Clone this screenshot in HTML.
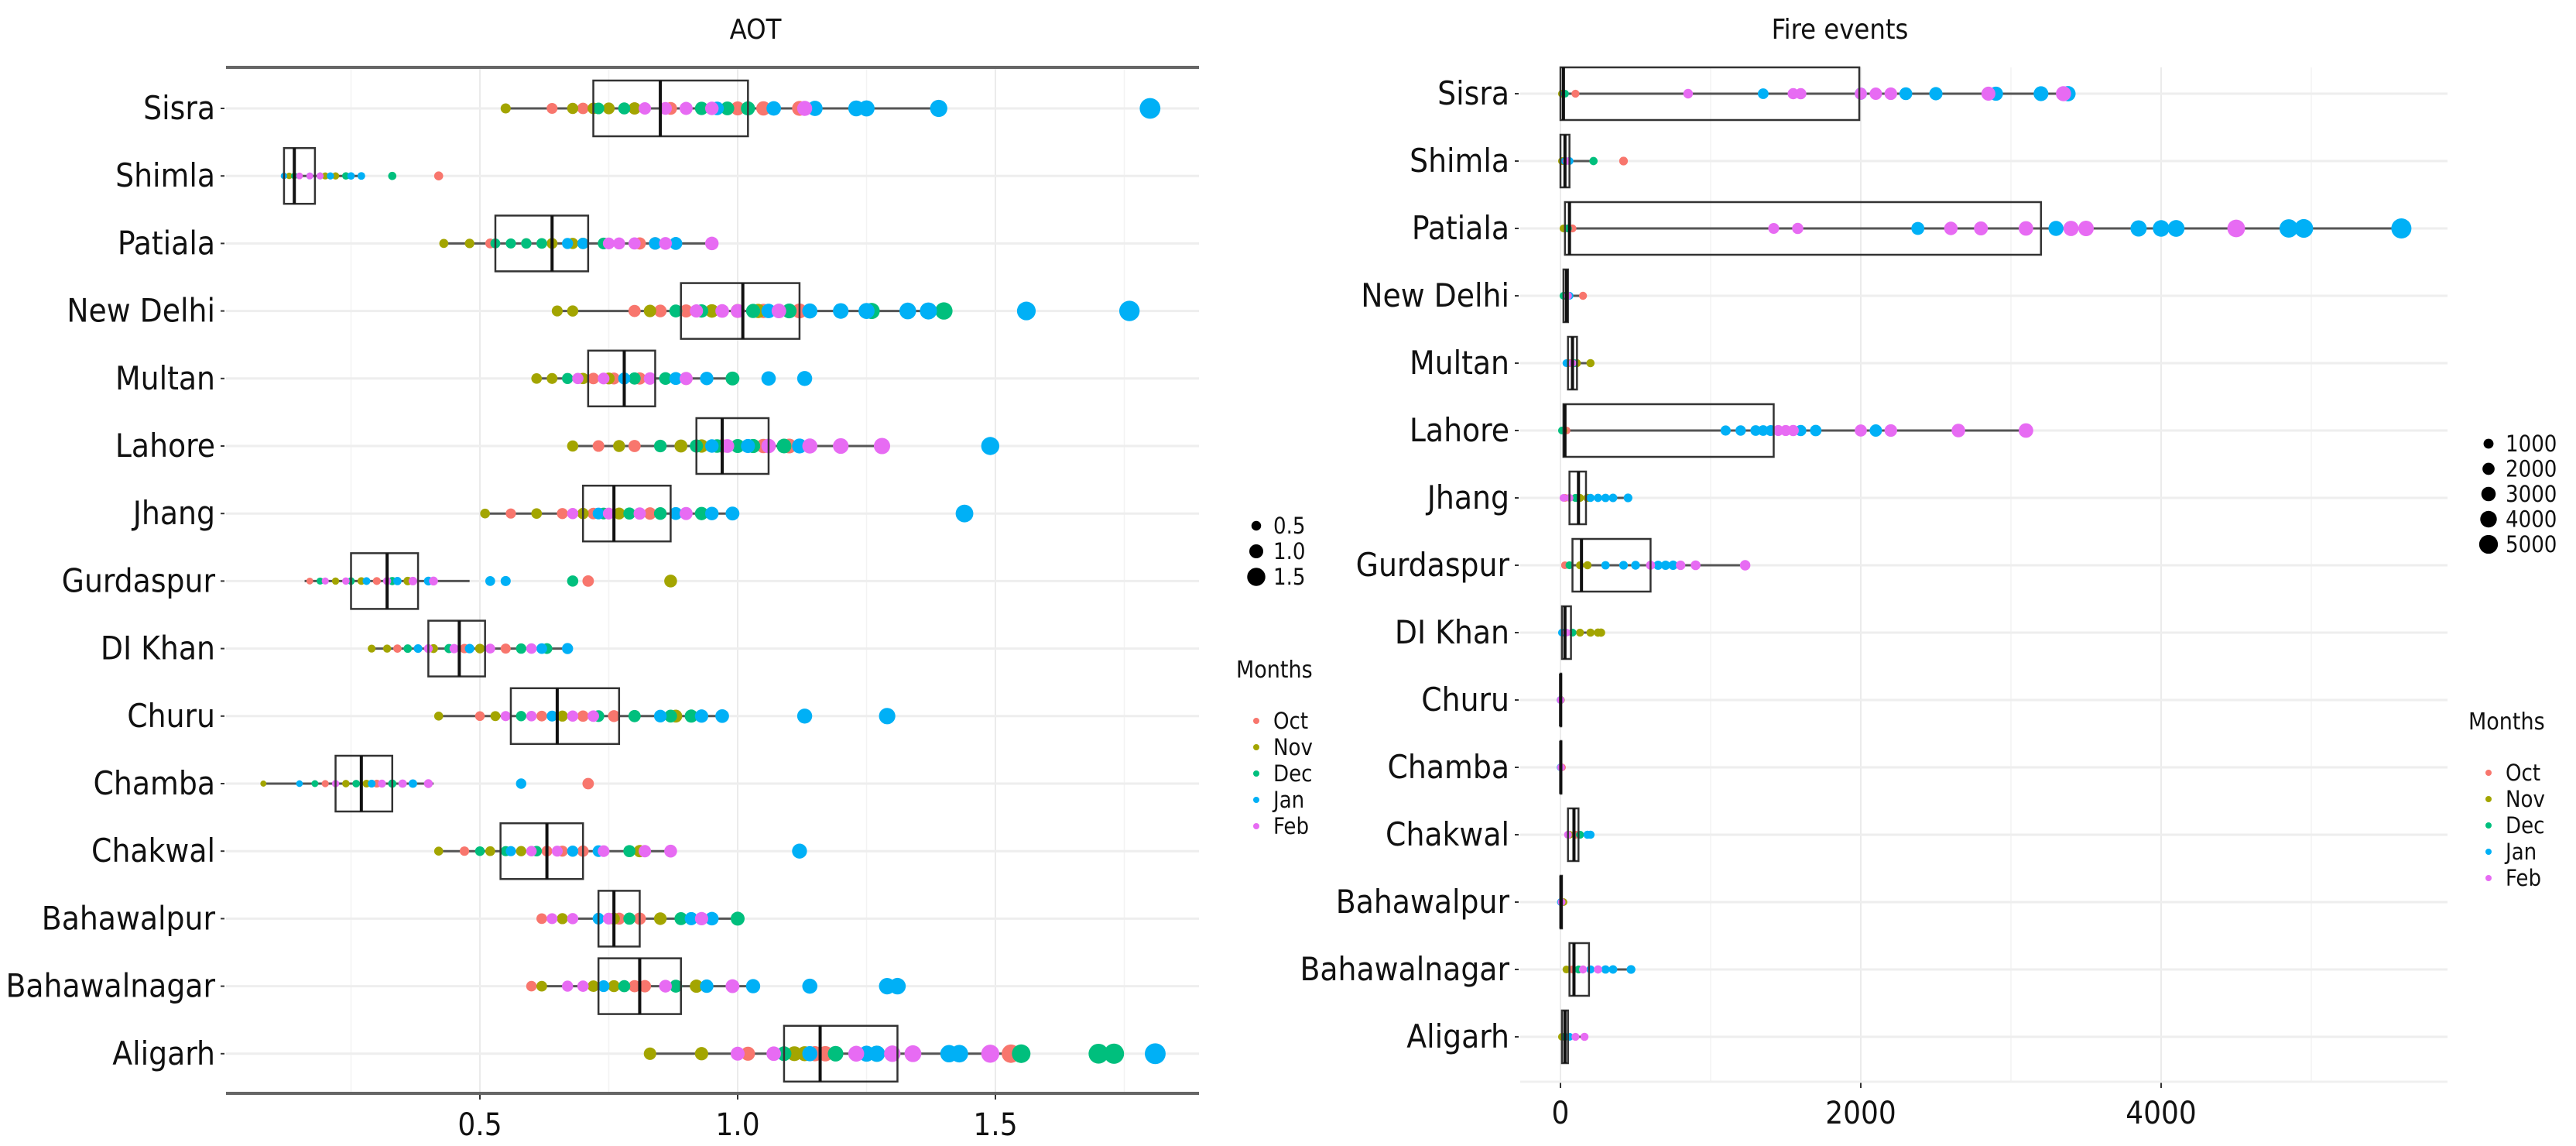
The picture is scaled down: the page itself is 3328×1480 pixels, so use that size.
<!DOCTYPE html>
<html><head><meta charset="utf-8">
<style>
html,body{margin:0;padding:0;background:#fff;}
svg{display:block;font-family:"DejaVu Sans Condensed","Liberation Sans",sans-serif;}
</style></head>
<body>
<svg id="chart" width="3328" height="1480" viewBox="0 0 3328 1480" xmlns="http://www.w3.org/2000/svg"></svg>
<script>
const cities = ["Sisra","Shimla","Patiala","New Delhi","Multan","Lahore","Jhang","Gurdaspur","DI Khan","Churu","Chamba","Chakwal","Bahawalpur","Bahawalnagar","Aligarh"];
const months = ["Oct","Nov","Dec","Jan","Feb"];
const monthColors = ["#F8766D","#A3A500","#00BF7D","#00B0F6","#E76BF3"];

const aotTicks = [0.5,1.0,1.5];
const aotTickLabels = ["0.5","1.0","1.5"];
const aotSizeLegend = [0.5,1.0,1.5];
const aotOct = [[0.64,0.70,0.80,0.87,1.0,1.05,1.12],[0.12,0.15,0.42],[0.52,0.59,0.81,0.84],[0.8,0.85,0.9,1.05,1.12],[0.72,0.76,0.81,0.9],[0.73,0.8,0.97,1.05,1.1],[0.56,0.66,0.72,0.83],[0.17,0.3,0.71],[0.34,0.47,0.55],[0.5,0.62,0.7,0.76],[0.2,0.3,0.71],[0.47,0.63,0.66,0.7],[0.62,0.77,0.81],[0.6,0.8,0.82],[1.02,1.15,1.17,1.53]];
const aotNov = [[0.55,0.68,0.72,0.75,0.80],[0.13,0.2,0.22],[0.43,0.48,0.64,0.68,0.70],[0.65,0.68,0.83,0.95,1.0,1.04],[0.61,0.64,0.7,0.75],[0.68,0.77,0.89,0.93],[0.51,0.61,0.7,0.77],[0.22,0.27,0.36,0.87],[0.29,0.32,0.41,0.5],[0.42,0.53,0.66,0.88],[0.08,0.24,0.28],[0.42,0.52,0.58,0.81],[0.66,0.76,0.85],[0.62,0.72,0.76,0.92],[0.83,0.93,1.11,1.13]];
const aotDec = [[0.73,0.78,0.93,0.98,1.02],[0.14,0.19,0.24,0.33],[0.53,0.56,0.59,0.62,0.74],[0.88,0.93,1.03,1.1,1.26,1.4],[0.67,0.8,0.86,0.99],[0.85,0.92,0.96,1.0,1.03,1.09],[0.74,0.79,0.85,0.93],[0.19,0.25,0.33,0.68],[0.36,0.44,0.58,0.63],[0.58,0.73,0.8,0.87,0.91],[0.18,0.26,0.33],[0.5,0.55,0.61,0.79],[0.79,0.89,1.0],[0.78,0.88],[1.09,1.19,1.27,1.55,1.70,1.73]];
const aotJan = [[0.96,1.07,1.15,1.23,1.25,1.39,1.8],[0.12,0.17,0.21,0.25,0.27],[0.67,0.70,0.84,0.88],[1.06,1.14,1.2,1.25,1.33,1.37,1.56,1.76],[0.78,0.88,0.94,1.06,1.13],[0.95,1.02,1.12,1.49],[0.73,0.88,0.95,0.99,1.44],[0.28,0.34,0.4,0.52,0.55],[0.38,0.48,0.62,0.67],[0.64,0.85,0.93,0.97,1.13,1.29],[0.15,0.29,0.37,0.58],[0.56,0.68,0.73,1.12],[0.73,0.91,0.95],[0.74,0.94,1.03,1.14,1.29,1.31],[1.14,1.25,1.27,1.41,1.43,1.81]];
const aotFeb = [[0.82,0.86,0.9,0.95,1.13],[0.15,0.17,0.19],[0.75,0.77,0.8,0.86,0.95],[0.92,0.97,1.0,1.08],[0.69,0.74,0.83,0.9],[0.98,1.06,1.14,1.2,1.28],[0.68,0.75,0.81,0.9],[0.2,0.24,0.32,0.37,0.41],[0.4,0.45,0.52,0.6],[0.55,0.6,0.68,0.72],[0.22,0.31,0.35,0.4],[0.6,0.65,0.74,0.82,0.87],[0.64,0.68,0.75,0.93],[0.67,0.7,0.86,0.99],[1.0,1.07,1.23,1.3,1.34,1.49]];
const aotQ1 = [0.72,0.12,0.53,0.89,0.71,0.92,0.70,0.25,0.40,0.56,0.22,0.54,0.73,0.73,1.09];
const aotMed = [0.85,0.14,0.64,1.01,0.78,0.97,0.76,0.32,0.46,0.65,0.27,0.63,0.76,0.81,1.16];
const aotQ3 = [1.02,0.18,0.71,1.12,0.84,1.06,0.87,0.38,0.51,0.77,0.33,0.70,0.81,0.89,1.31];
const aotLo = [0.55,0.12,0.43,0.65,0.61,0.68,0.51,0.16,0.29,0.42,0.08,0.42,0.62,0.60,0.83];
const aotHi = [1.39,0.27,0.95,1.40,0.99,1.28,0.99,0.48,0.67,0.97,0.41,0.87,1.00,1.04,1.55];

const fireTicks = [0,2000,4000];
const fireTickLabels = ["0","2000","4000"];
const fireSizeLegend = [1000,2000,3000,4000,5000];
const fireOct = [[20,100],[20,420],[40,80],[40,150],[60],[40],[30],[30],[20],[2],[10],[100],[10],[80],[20]];
const fireNov = [[10],[10],[20],[30],[110,200],[20],[130,180],[130,180],[130,200,250,270],[3],[3],[60],[20],[40],[10]];
const fireDec = [[30],[220],[50],[20],[90],[10],[100],[60],[80],[1],[2],[130],[5],[120],[30]];
const fireJan = [[1350,2000,2300,2500,2900,3200,3380],[30,60],[2380,3300,3850,4000,4100,4850,4950,5600],[60],[40],[1100,1200,1300,1350,1400,1600,1700,2100],[200,250,300,350,450],[300,420,500,650,700,750],[10],[0],[1],[180,200],[3],[200,300,350,470],[60]];
const fireFeb = [[850,1550,1600,2000,2100,2200,2850,3350],[40],[1420,1580,2600,2800,3100,3400,3500,4500],[50],[80],[1450,1500,1550,2000,2200,2650,3100],[20,60],[600,800,900,1230],[40],[1],[4],[50],[8],[150,250],[100,160]];
const fireQ1 = [0,0,30,20,50,20,60,80,10,0,0,50,0,60,10];
const fireMed = [20,30,60,40,80,30,120,140,30,1,2,90,3,90,30];
const fireQ3 = [1990,60,3200,50,110,1420,170,600,70,3,6,120,10,190,50];
const fireLo = [0,0,0,20,40,10,20,10,10,0,0,50,0,40,10];
const fireHi = [3400,220,5600,150,200,3100,450,1230,270,3,10,200,20,470,160];

const NS = "http://www.w3.org/2000/svg";
const svg = document.getElementById("chart");
function mk(tag, attrs, parent){
  const e = document.createElementNS(NS, tag);
  for (const k in attrs) e.setAttribute(k, attrs[k]);
  (parent||svg).appendChild(e);
  return e;
}

function drawPanel(cfg){
  const g = mk("g", {});
  
  
  const X = v => cfg.x0 + (v - cfg.v0) * cfg.k;
  const Y = i => cfg.y0 + i * cfg.step;
  cfg.minor.forEach(v => {
    const l = mk("line", {x1:X(v), x2:X(v), y1:cfg.top, y2:cfg.bottom, stroke:"#f3f3f3", "stroke-width":1.5}, g);
    
    
  });
  cfg.ticks.forEach((v, j) => {
    const l = mk("line", {x1:X(v), x2:X(v), y1:cfg.top, y2:cfg.bottom, stroke:"#ebebeb", "stroke-width":2}, g);
    
    
    const tk = mk("line", {x1:X(v), x2:X(v), y1:cfg.bottom, y2:cfg.bottom+8, stroke:"#333", "stroke-width":2}, g);
    
    
    const t = mk("text", {x:X(v), y:cfg.bottom+54, "text-anchor":"middle", "font-size":40, fill:"#111"}, g);
    t.textContent = cfg.tickLabels[j];
    
    
  });
  cities.forEach((c, i) => {
    const l = mk("line", {x1:cfg.left, x2:cfg.right, y1:Y(i), y2:Y(i), stroke:"#eeeeee", "stroke-width":3}, g);
    
    
    const t = mk("text", {x:cfg.left-14, y:Y(i)+14, "text-anchor":"end", "font-size":42, fill:"#111"}, g);
    t.textContent = c;
    
    
    const tk = mk("line", {x1:cfg.left-7, x2:cfg.left-2, y1:Y(i), y2:Y(i), stroke:"#333", "stroke-width":2}, g);
    
    
  });
  cities.forEach((c, i) => {
    const w = mk("line", {x1:X(cfg.lo[i]), x2:X(cfg.hi[i]), y1:Y(i), y2:Y(i), stroke:"#555", "stroke-width":3}, g);
    
    
  });
  cfg.series.forEach((ser, m) => {
    ser.forEach((vals, i) => {
      vals.forEach(v => {
        const p = mk("circle", {cx:X(v), cy:Y(i), r:cfg.r(v), fill:monthColors[m]}, g);
        
        
      });
    });
  });
  cities.forEach((c, i) => {
    const b = mk("rect", {x:X(cfg.q1[i]), y:Y(i)-cfg.bh, width:Math.max(1, X(cfg.q3[i])-X(cfg.q1[i])), height:2*cfg.bh, fill:"none", stroke:"#333", "stroke-width":2.5}, g);
    
    
    const md = mk("line", {x1:X(cfg.med[i]), x2:X(cfg.med[i]), y1:Y(i)-cfg.bh, y2:Y(i)+cfg.bh, stroke:"#111", "stroke-width":4}, g);
    
    
  });
  if (cfg.topLine){
    const tl = mk("line", {x1:cfg.left, x2:cfg.right, y1:cfg.top, y2:cfg.top, stroke:"#666", "stroke-width":4}, g);
    
    
  }
  const ax = mk("line", {x1:cfg.left, x2:cfg.right, y1:cfg.bottom, y2:cfg.bottom, stroke:cfg.axisColor, "stroke-width":cfg.axisW}, g);
  
  
  const tt = mk("text", {x:cfg.titleX, y:50, "text-anchor":"middle", "font-size":36, fill:"#111"}, g);
  tt.textContent = cfg.title;
  
  
  cfg.sizeLegend.forEach((v, j) => {
    const y = cfg.legY0 + j * cfg.legStep;
    const c = mk("circle", {cx:cfg.legX, cy:y, r:cfg.r(v), fill:"#000"}, g);
    
    
    const t = mk("text", {x:cfg.legX+22, y:y+10, "font-size":29, fill:"#111"}, g);
    t.textContent = cfg.sizeLabels[j];
    
    
  });
  const mt = mk("text", {x:cfg.legX-26, y:cfg.monY, "font-size":30, fill:"#111"}, g);
  mt.textContent = "Months";
  
  
  months.forEach((m, j) => {
    const y = cfg.monY + 56 + j * 34;
    const c = mk("circle", {cx:cfg.legX, cy:y, r:4, fill:monthColors[j]}, g);
    
    
    const t = mk("text", {x:cfg.legX+22, y:y+10, "font-size":29, fill:"#111"}, g);
    t.textContent = m;
    
    
  });
}

drawPanel({
  name:"aot-panel", title:"AOT", titleX:976,
  x0:620, v0:0.5, k:666, left:292, right:1549, top:87, bottom:1412,
  y0:140, step:87.2, bh:36,
  ticks:aotTicks, tickLabels:aotTickLabels, minor:[0.25,0.75,1.25,1.75],
  series:[aotOct,aotNov,aotDec,aotJan,aotFeb],
  q1:aotQ1, med:aotMed, q3:aotQ3, lo:aotLo, hi:aotHi,
  r: v => 3.5 + 5.5*v, topLine:true, axisColor:"#666", axisW:4,
  sizeLegend:aotSizeLegend, sizeLabels:["0.5","1.0","1.5"],
  legX:1623, legY0:679, legStep:33, monY:875
});
drawPanel({
  name:"fire-panel", title:"Fire events", titleX:2377,
  x0:2016, v0:0, k:388/2000, left:1964, right:3162, top:87, bottom:1397,
  y0:121, step:87.0, bh:34,
  ticks:fireTicks, tickLabels:fireTickLabels, minor:[1000,3000,5000],
  series:[fireOct,fireNov,fireDec,fireJan,fireFeb],
  q1:fireQ1, med:fireMed, q3:fireQ3, lo:fireLo, hi:fireHi,
  r: v => 5 + v/700, topLine:false, axisColor:"#f0f0f0", axisW:3,
  sizeLegend:fireSizeLegend, sizeLabels:["1000","2000","3000","4000","5000"],
  legX:3215, legY0:573, legStep:32.5, monY:942
});
</script>
</body></html>
